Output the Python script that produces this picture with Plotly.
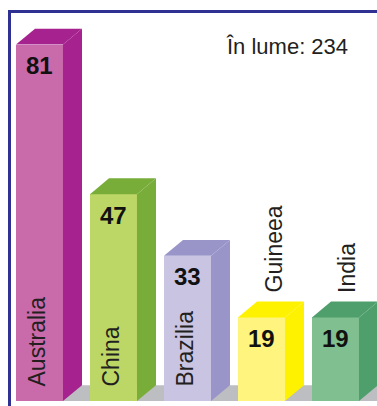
import plotly.graph_objects as go

categories = ["Australia", "China", "Brazilia", "Guineea", "India"]
values = [81, 47, 33, 19, 19]
front_colors = ["#c96aab", "#bdd766", "#c8c4e2", "#fff47d", "#80bf8f"]
side_colors = ["#a6228f", "#79ad3a", "#9995c9", "#fff200", "#4f9f6d"]
label_inside = [True, True, True, False, False]
total_text = "În lume: 234"
title_text = "(mil. tone)"

BAR_W = 0.635
DX = 0.257
DY = 3.6
xs = list(range(len(categories)))

fig = go.Figure()

# front faces
fig.add_trace(go.Bar(
    x=xs, y=values, width=BAR_W,
    marker=dict(color=front_colors, line=dict(width=0)),
    hoverinfo="skip", showlegend=False,
))

# side and top faces
for x, v, c in zip(xs, values, side_colors):
    xl, xr = x - BAR_W / 2, x + BAR_W / 2
    fig.add_trace(go.Scatter(
        x=[xr, xr + DX, xr + DX, xr, xr],
        y=[v, v + DY, DY, 0, v],
        fill="toself", fillcolor=c, mode="lines", line=dict(width=0, color=c),
        hoverinfo="skip", showlegend=False,
    ))
    fig.add_trace(go.Scatter(
        x=[xl, xr, xr + DX, xl + DX, xl],
        y=[v, v, v + DY, v + DY, v],
        fill="toself", fillcolor=c, mode="lines", line=dict(width=0, color=c),
        hoverinfo="skip", showlegend=False,
    ))

# floor
x0f = xs[0] - BAR_W / 2
x1f = xs[-1] + 2
fig.add_shape(
    type="path", xref="x", yref="y", layer="below",
    path=f"M {x0f} 0 L {x0f + DX} {DY} L {x1f} {DY} L {x1f} 0 Z",
    fillcolor="#bdbec2", line=dict(width=0),
)

# value labels
for x, v in zip(xs, values):
    fig.add_annotation(
        x=x, y=v, xref="x", yref="y", text=f"<b>{v}</b>", showarrow=False,
        yanchor="middle", yshift=-21,
        font=dict(family="Liberation Sans, Arial, sans-serif", size=24, color="#111111"),
    )

# category labels
for x, v, name, inside in zip(xs, values, categories, label_inside):
    if inside:
        fig.add_annotation(
            x=x, y=0, xref="x", yref="y", text=name, showarrow=False,
            textangle=-90, yanchor="bottom", yshift=13, xshift=-2,
            font=dict(family="Liberation Sans, Arial, sans-serif", size=23, color="#231f20"),
        )
    else:
        fig.add_annotation(
            x=x, y=v, xref="x", yref="y", text=name, showarrow=False,
            textangle=-90, yanchor="bottom", yshift=23, xshift=12,
            font=dict(family="Liberation Sans, Arial, sans-serif", size=23, color="#231f20"),
        )

fig.add_annotation(
    x=0.753, y=0.915, xref="paper", yref="paper", text=total_text, showarrow=False,
    xanchor="center", yanchor="middle",
    font=dict(family="Liberation Sans, Arial, sans-serif", size=22, color="#231f20"),
)

fig.add_annotation(
    x=0.51, y=1, xref="paper", yref="paper", text=title_text, showarrow=False,
    xanchor="center", yanchor="bottom", yshift=13,
    font=dict(family="Liberation Sans, Arial, sans-serif", size=19, color="#231f20"),
)

fig.update_layout(
    width=377, height=406,
    margin=dict(l=11, r=0, t=13, b=0),
    paper_bgcolor="white", plot_bgcolor="white",
    bargap=0,
    xaxis=dict(range=[-0.385, 4.561], showgrid=False, zeroline=False,
               showticklabels=False, ticks="", showline=True, side="top",
               linecolor="#2e3192", linewidth=2.5, fixedrange=True),
    yaxis=dict(range=[-1.136, 88.18], showgrid=False, zeroline=False,
               showticklabels=False, ticks="", showline=True,
               linecolor="#2e3192", linewidth=2.5, fixedrange=True),
)

fig.write_html(
    "out.html",
    config={"displayModeBar": False},
    post_script="document.body.style.margin='0';document.body.style.overflow='hidden';",
)
